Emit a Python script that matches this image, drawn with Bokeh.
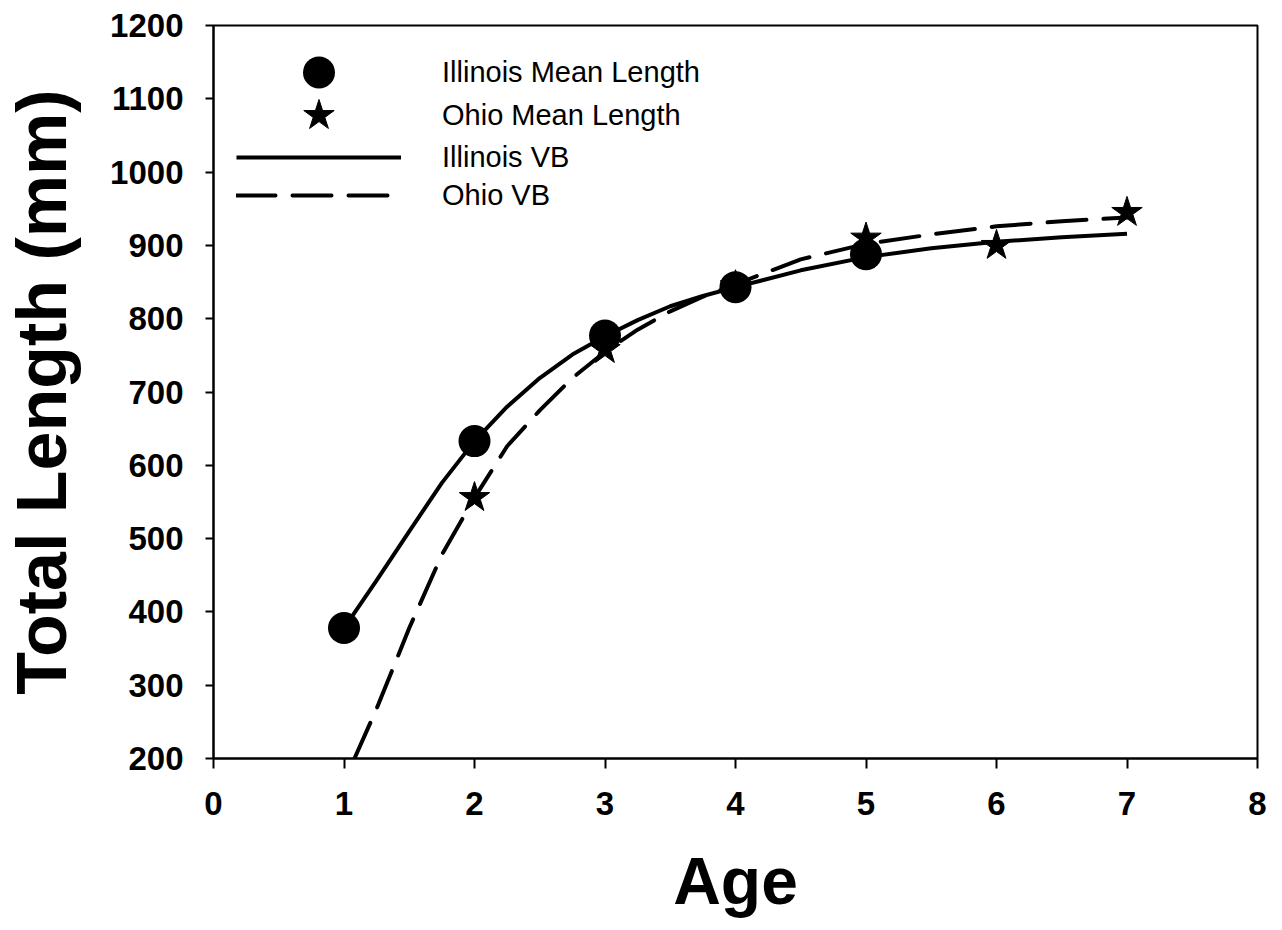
from bokeh.plotting import figure
from bokeh.models import Range1d, FixedTicker, Legend, LegendItem
from bokeh.embed import file_html
from bokeh.resources import INLINE

# ---- data ----
ages_il = [1, 2, 3, 4, 5]
il_mean = [378, 633, 777, 843, 888]

ages_oh = [2, 3, 4, 5, 6, 7]
oh_mean = [556, 758, 845, 910, 900, 945]

il_vb_age = [1, 1.25, 1.5, 1.75, 2, 2.25, 2.5, 2.75, 3, 3.25, 3.5, 3.75, 4, 4.5, 5, 5.5, 6, 6.5, 7]
il_vb = [378, 443, 510, 576, 633, 680, 719, 751, 776, 798, 817, 831, 843, 866, 884, 896, 905, 911, 916]

oh_vb_age = [1.08, 1.25, 1.5, 1.75, 2, 2.25, 2.5, 2.75, 3, 3.25, 3.5, 3.75, 4, 4.5, 5, 5.5, 6, 6.5, 7]
oh_vb = [200, 268, 378, 478, 556, 626, 675, 719, 755, 785, 810, 830, 847, 881, 902, 915, 926, 933, 938]

x_ticks = [0, 1, 2, 3, 4, 5, 6, 7, 8]
y_ticks = [200, 300, 400, 500, 600, 700, 800, 900, 1000, 1100, 1200]

FONT = "Liberation Sans"

p = figure(width=1275, height=925,
           x_range=Range1d(0, 8), y_range=Range1d(200, 1200),
           output_backend="svg", toolbar_location=None,
           min_border_left=210, min_border_right=18,
           min_border_top=25, min_border_bottom=167)

p.grid.visible = False
p.outline_line_color = "black"
p.outline_line_width = 2
p.background_fill_color = "white"
p.border_fill_color = "white"

for ax in (p.xaxis[0], p.yaxis[0]):
    ax.axis_line_width = 2
    ax.major_tick_line_width = 2
    ax.minor_tick_line_color = None
    ax.major_tick_in = 0
    ax.major_label_text_font = FONT
    ax.major_label_text_font_style = "bold"
    ax.major_label_text_font_size = "33px"
    ax.major_label_text_color = "black"
    ax.axis_label_text_font = FONT
    ax.axis_label_text_font_style = "bold"
    ax.axis_label_text_color = "black"

p.xaxis.ticker = FixedTicker(ticks=x_ticks)
p.yaxis.ticker = FixedTicker(ticks=y_ticks)
p.xaxis.major_tick_out = 10
p.yaxis.major_tick_out = 8
p.xaxis.major_label_standoff = 23
p.yaxis.major_label_standoff = 22

p.xaxis.axis_label = "Age"
p.xaxis.axis_label_text_font_size = "66px"
p.xaxis.axis_label_standoff = 26
p.yaxis.axis_label = "Total Length (mm)"
p.yaxis.axis_label_text_font_size = "70px"
p.yaxis.axis_label_standoff = 26

# curves
r_il_vb = p.line(il_vb_age, il_vb, line_color="black", line_width=4)
r_oh_vb = p.line(oh_vb_age, oh_vb, line_color="black", line_width=4,
                 line_dash="39 17", line_cap="round")

# markers
r_oh = p.scatter(ages_oh, oh_mean, marker="star", size=32,
                 fill_color="black", line_color="black", line_width=1)
r_il = p.scatter(ages_il, il_mean, marker="circle", size=32,
                 fill_color="black", line_color=None)

# legend: one legend per row
items = [("Illinois Mean Length", r_il), ("Ohio Mean Length", r_oh),
         ("Illinois VB", r_il_vb), ("Ohio VB", r_oh_vb)]
row_y = [646, 603, 561, 523]
for (lbl, r), yy in zip(items, row_y):
    leg = Legend(items=[LegendItem(label=lbl, renderers=[r])],
                 location=(23, yy), orientation="vertical",
                 glyph_width=165, glyph_height=80, label_standoff=41,
                 padding=0, margin=0, spacing=0,
                 border_line_color=None, background_fill_alpha=0,
                 label_text_font=FONT, label_text_font_size="29px",
                 label_text_color="black", label_text_baseline="middle")
    p.add_layout(leg, "center")

open("out.html", "w").write(file_html(p, INLINE))
